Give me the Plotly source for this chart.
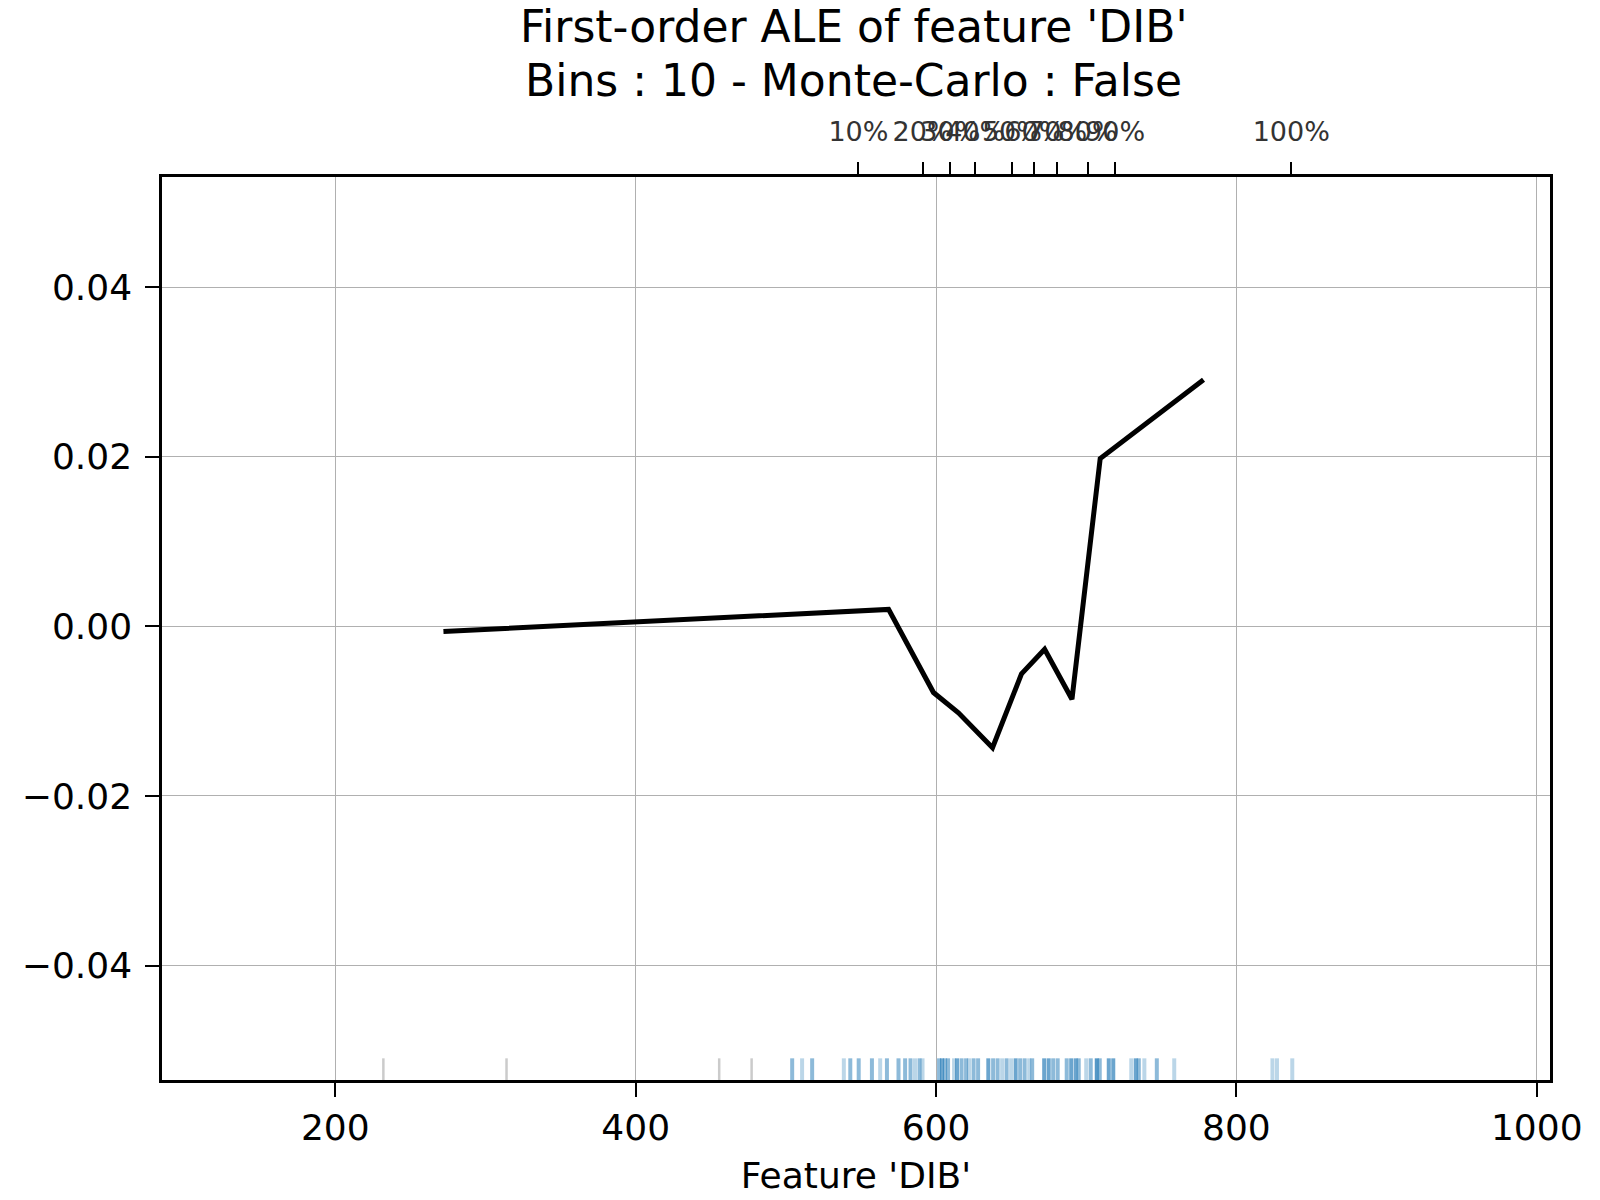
import plotly.graph_objects as go

# ALE curve (bin centres vs effect)
ale_x = [272, 568.4, 598.3, 614.9, 637.6, 656.9, 672.3, 690.5, 709.3, 778.1]
ale_y = [-0.0006, 0.0020, -0.0078, -0.0102, -0.0143, -0.0056, -0.0027, -0.0086, 0.0198, 0.0291]

# quantiles shown on the top axis
quantile_vals = [548.3, 591.0, 609.5, 626.1, 650.5, 665.4, 680.6, 700.9, 719.2, 836.5]
quantile_labels = ["10%", "20%", "30%", "40%", "50%", "60%", "70%", "80%", "90%", "100%"]

# rug of observed feature values (value, number of overlapping points)
rug_vals = [232, 314, 455.6, 477.2, 504.2, 510.8, 517.5, 538.6, 542.9, 548.5, 557.3,
            562.8, 567.3, 575.0, 579.4, 583, 586, 589, 591, 602, 604, 606, 608,
            612, 614, 617, 620, 622, 625, 628, 634.8, 638, 641, 644, 647, 650, 653,
            656, 659, 662, 664, 672, 675, 678, 681, 687, 690, 693, 695, 700, 703,
            707, 709, 715, 718, 730, 733, 735, 738.7, 747, 758.6, 824, 827, 837.2]
rug_counts = [1, 1, 1, 1, 2, 1, 2, 1, 2, 2, 2,
              1, 2, 2, 2, 2, 1, 2, 1, 2, 3, 2, 2,
              1, 3, 2, 2, 1, 2, 2, 3, 2, 2, 1, 2, 1, 3,
              2, 2, 1, 2, 3, 3, 2, 2, 2, 3, 3, 2, 1, 2,
              4, 2, 3, 3, 1, 3, 2, 1, 2, 1, 1, 1, 1]

x_ticks = [200, 400, 600, 800, 1000]
y_ticks = [-0.04, -0.02, 0.0, 0.02, 0.04]
y_labels = ["\u22120.04", "\u22120.02", "0.00", "0.02", "0.04"]

title_lines = ["First-order ALE of feature 'DIB'", "Bins : 10 - Monte-Carlo : False"]

FONT = "DejaVu Sans"

fig = go.Figure()

fig.add_trace(go.Scatter(
    x=ale_x, y=ale_y, mode="lines",
    line=dict(color="black", width=5),
    showlegend=False,
))

# invisible trace to activate the top quantile axis
fig.add_trace(go.Scatter(
    x=quantile_vals, y=[0] * len(quantile_vals), xaxis="x2",
    mode="markers", marker=dict(opacity=0), showlegend=False, hoverinfo="skip",
))

# rug lines at the bottom of the plot
for v, c in zip(rug_vals, rug_counts):
    a = 1 - (1 - 0.3) ** c
    col = "rgba(160,160,160,0.55)" if c == 1 and v < 500 else f"rgba(31,119,180,{a:.2f})"
    fig.add_shape(type="line", xref="x", yref="y domain",
                  x0=v, x1=v, y0=0, y1=0.024,
                  line=dict(color=col, width=4 if v > 500 else 2.5), layer="below")

# two-line title
for txt, yy in zip(title_lines, [1.167, 1.107]):
    fig.add_annotation(text=txt, xref="paper", yref="paper", x=0.498, y=yy,
                       xanchor="center", yanchor="middle", showarrow=False,
                       font=dict(size=44, family=FONT, color="black"))

x_range = [84.6, 1008.8]

fig.update_layout(
    width=1600, height=1200,
    paper_bgcolor="white", plot_bgcolor="white",
    margin=dict(l=154, r=58, t=169, b=128),
    font=dict(family=FONT, color="black"),
    xaxis=dict(
        range=x_range, tickvals=x_ticks, ticktext=[str(t) for t in x_ticks],
        showgrid=True, gridcolor="#b0b0b0", gridwidth=1,
        showline=True, linecolor="black", linewidth=2.5, mirror=True,
        ticks="outside", ticklen=14, tickwidth=2, tickcolor="black",
        tickfont=dict(size=36), zeroline=False, automargin=False,
        title=dict(text="Feature 'DIB'", font=dict(size=36), standoff=16),
    ),
    xaxis2=dict(
        range=x_range, overlaying="x", side="top", anchor="y",
        tickvals=quantile_vals, ticktext=quantile_labels,
        showgrid=False, zeroline=False, showline=False, automargin=False,
        ticks="outside", ticklen=14, tickwidth=2, tickcolor="black",
        tickfont=dict(size=27, color="#333333"), tickangle=0,
        ticklabelstandoff=10,
    ),
    yaxis=dict(
        range=[-0.0535, 0.053], tickvals=y_ticks, ticktext=y_labels,
        showgrid=True, gridcolor="#b0b0b0", gridwidth=1,
        showline=True, linecolor="black", linewidth=2.5, mirror=True,
        ticks="outside", ticklen=14, tickwidth=2, tickcolor="black",
        tickfont=dict(size=36), zeroline=False, automargin=False,
        ticklabelstandoff=6,
    ),
)

fig.write_html("out.html")
